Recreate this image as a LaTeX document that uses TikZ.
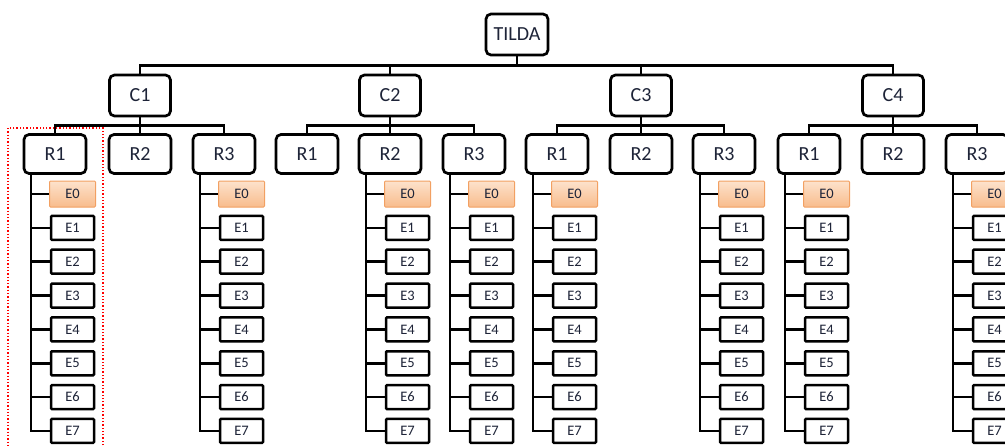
\documentclass[tikz,border=0pt]{standalone}
\usepackage{fontspec}
\setmainfont{Carlito}
\definecolor{txt}{HTML}{1E2438}
\definecolor{peachtop}{HTML}{FDE2CC}
\definecolor{peachbot}{HTML}{F8BC8C}
\definecolor{peachline}{HTML}{F2A062}
\begin{document}
\begin{tikzpicture}[x=1pt,y=-1pt,
  box/.style={draw=black, line width=2.7pt, rounded corners=5pt, fill=white, inner sep=0pt, text=txt, font=\fontsize{20}{20}\selectfont},
  topbox/.style={box, minimum width=62pt, minimum height=41pt},
  cbox/.style={box, minimum width=61pt, minimum height=41pt},
  rbox/.style={box, minimum width=62pt, minimum height=39pt},
  ebox/.style={draw=black, line width=2.5pt, rounded corners=1pt, fill=white, inner sep=0pt, text=txt, minimum width=43pt, minimum height=24pt, font=\fontsize{14.5}{14.5}\selectfont},
  eboxo/.style={ebox, draw=peachline, top color=peachtop, bottom color=peachbot, line width=1pt, minimum width=46pt, minimum height=26pt},
  conn/.style={draw=black, line width=2.6pt},
  hilite/.style={draw=red, dotted, line width=1.3pt}
]
\useasboundingbox (0,0) rectangle (1005,447);

\node[topbox] (tilda) at (517,34.5) {TILDA};

\foreach \g/\cx/\ra/\rb/\rc in {1/140/55/140/224, 2/390/307/390/474, 3/641/557/641/724, 4/893/809/893/977}{
  \node[cbox] (c\g) at (\cx,95.5) {C\g};
  \node[rbox] (r\g-1) at (\ra,154) {R1};
  \node[rbox] (r\g-2) at (\rb,154) {R2};
  \node[rbox] (r\g-3) at (\rc,154) {R3};
  \draw[conn] (c\g.south) -- ++(0,8) coordinate (b\g);
  \draw[conn] (r\g-1.north) |- (b\g) -| (r\g-3.north);
  \draw[conn] (r\g-2.north) -- (r\g-2.north |- b\g);
}

\draw[conn] (tilda.south) -- ++(0,9) coordinate (tb);
\draw[conn] (c1.north) |- (tb) -| (c4.north);
\draw[conn] (c2.north) -- (c2.north |- tb);
\draw[conn] (c3.north) -- (c3.north |- tb);

\foreach \g/\r in {1/1,1/3,2/2,2/3,3/1,3/3,4/1,4/3}{
  \path (r\g-\r.center) ++(17.5,40) node[eboxo] (e\g-\r-0) {E0};
  \foreach \i in {1,...,7}{
    \path (r\g-\r.center) ++(17.5,{40+33.85*\i}) node[ebox] (e\g-\r-\i) {E\i};
  }
  \path (r\g-\r.south) ++(-24,0) coordinate (v\g-\r);
  \draw[conn] (v\g-\r) |- (e\g-\r-7.west);
  \foreach \i in {0,...,6}{
    \draw[conn] (e\g-\r-\i.west) -- (e\g-\r-\i.west -| v\g-\r);
  }
}

\draw[hilite] (8,128) rectangle (103,452);
\end{tikzpicture}
\end{document}
